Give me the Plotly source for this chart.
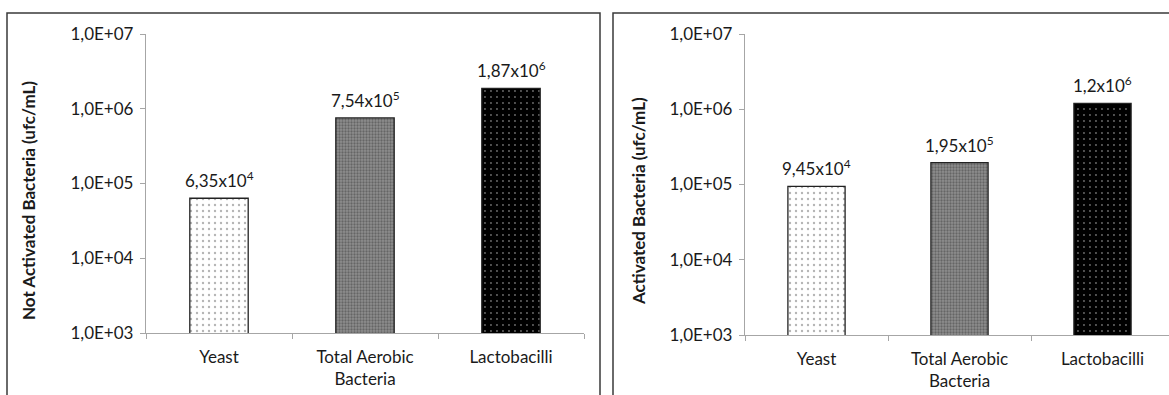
import math
import plotly.graph_objects as go

# Categories and counts (ufc/mL)
categories = ["Yeast", "Total Aerobic Bacteria", "Lactobacilli"]
category_labels = ["Yeast", "Total Aerobic<br>Bacteria", "Lactobacilli"]
not_activated = [6.35e4, 7.54e5, 1.87e6]
activated = [9.45e4, 1.95e5, 1.2e6]

y_tick_values = [1e3, 1e4, 1e5, 1e6, 1e7]
y_tick_labels = ["1,0E+03", "1,0E+04", "1,0E+05", "1,0E+06", "1,0E+07"]

W, H = 1169, 395
FONT = "Lato, 'Open Sans', sans-serif"
TXT = "#1a1a1a"
AXIS = "#a6a6a6"


def sci_label(v):
    e = int(math.floor(math.log10(v)))
    m = round(v / 10 ** e, 2)
    s = f"{m:.2f}".rstrip("0").rstrip(".").replace(".", ",")
    return f"{s}x10<sup>{e}</sup>"


# per-category fill patterns
patterns = [
    dict(shape=".", bgcolor="#ffffff", fgcolor="#6a6a6a", size=6, solidity=0.12),
    dict(shape=".", bgcolor="#8e8e8e", fgcolor="#3c3c3c", size=3, solidity=0.45),
    dict(shape=".", bgcolor="#000000", fgcolor="#d8d8d8", size=6, solidity=0.08),
]


def bars(values, xa, ya):
    traces = []
    for cat, val, pat in zip(categories, values, patterns):
        traces.append(go.Bar(
            x=[cat], y=[val], width=0.4, xaxis=xa, yaxis=ya,
            marker=dict(color=pat["bgcolor"], pattern=pat,
                        line=dict(color="#222222", width=1.3)),
            showlegend=False, hoverinfo="skip",
        ))
    return traces


fig = go.Figure()
for t in bars(not_activated, "x", "y"):
    fig.add_trace(t)
for t in bars(activated, "x2", "y2"):
    fig.add_trace(t)

xcommon = dict(
    type="category", categoryorder="array", categoryarray=categories,
    tickmode="array", tickvals=categories, ticktext=category_labels,
    showline=True, linecolor=AXIS, linewidth=1.3,
    ticks="outside", tickson="boundaries", ticklen=5, tickcolor=AXIS,
    ticklabelstandoff=8,
    showgrid=False, zeroline=False, automargin=False,
    tickfont=dict(family=FONT, size=17, color=TXT),
)
ycommon = dict(
    type="log", range=[3, 7], tickmode="array",
    tickvals=y_tick_values, ticktext=y_tick_labels,
    showline=True, linecolor=AXIS, linewidth=1.3,
    ticks="outside", ticklen=5, tickcolor=AXIS, ticklabelstandoff=3,
    showgrid=False, zeroline=False, automargin=False,
    tickfont=dict(family=FONT, size=17, color=TXT),
)

fig.update_layout(
    width=W, height=H,
    margin=dict(l=0, r=0, t=0, b=0),
    paper_bgcolor="white", plot_bgcolor="rgba(0,0,0,0)",
    barmode="overlay",
    xaxis=dict(xcommon, domain=[146 / W, 584 / W], range=[-0.5, 2.5], anchor="y"),
    yaxis=dict(ycommon, domain=[1 - 333 / H, 1 - 34 / H], anchor="x"),
    xaxis2=dict(xcommon, domain=[745 / W, 1.0], range=[-0.5, -0.5 + 424 / 143], anchor="y2"),
    yaxis2=dict(ycommon, domain=[1 - 335 / H, 1 - 34 / H], anchor="x2"),
)

annotations = []
for xa, ya, values in (("x", "y", not_activated), ("x2", "y2", activated)):
    for cat, val in zip(categories, values):
        annotations.append(dict(
            x=cat, y=math.log10(val), xref=xa, yref=ya,
            text=sci_label(val), showarrow=False,
            yanchor="bottom", yshift=5,
            font=dict(family=FONT, size=17, color=TXT),
        ))

# y-axis titles
annotations.append(dict(
    x=28 / W, y=1 - 201 / H, xref="paper", yref="paper",
    text="<b>Not Activated Bacteria (ufc/mL)</b>", textangle=-90,
    showarrow=False, xanchor="center", yanchor="middle",
    font=dict(family=FONT, size=17, color=TXT),
))
annotations.append(dict(
    x=638 / W, y=1 - 201 / H, xref="paper", yref="paper",
    text="<b>Activated Bacteria (ufc/mL)</b>", textangle=-90,
    showarrow=False, xanchor="center", yanchor="middle",
    font=dict(family=FONT, size=17, color=TXT),
))
fig.update_layout(annotations=annotations)

# panel frames
frame = dict(color="#3a3a3a", width=1.5)
fig.update_layout(shapes=[
    dict(type="path", xref="paper", yref="paper",
         path=f"M {7 / W},0 L {7 / W},{1 - 13 / H} L {600 / W},{1 - 13 / H} L {600 / W},0",
         line=frame),
    dict(type="path", xref="paper", yref="paper",
         path=f"M {613 / W},0 L {613 / W},{1 - 13 / H} L 1.01,{1 - 13 / H}",
         line=frame),
])

fig.write_html("out.html")
